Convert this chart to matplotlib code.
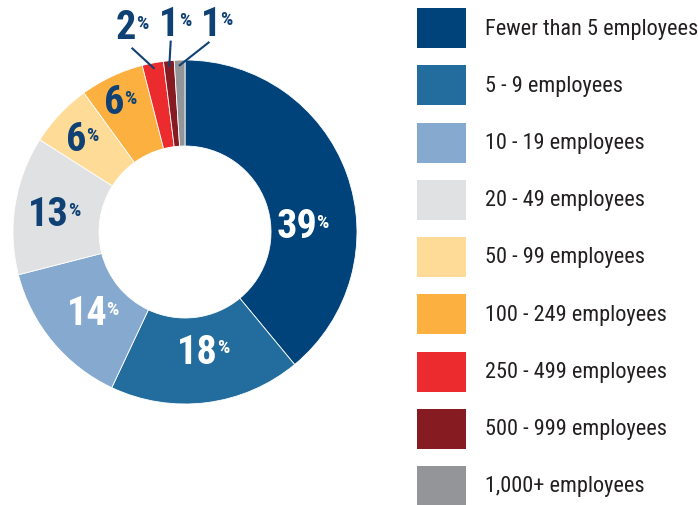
import numpy as np
import matplotlib
matplotlib.use("Agg")
import matplotlib.pyplot as plt
from matplotlib.patches import Rectangle
from matplotlib import font_manager

categories = ["Fewer than 5 employees", "5 - 9 employees", "10 - 19 employees",
              "20 - 49 employees", "50 - 99 employees", "100 - 249 employees",
              "250 - 499 employees", "500 - 999 employees", "1,000+ employees"]
values = [39, 18, 14, 13, 6, 6, 2, 1, 1]
colors = ["#00427A", "#236C9E", "#86A9CF", "#E0E1E3", "#FEDC97",
          "#FBB040", "#EC2B2F", "#861B22", "#939598"]
label_colors = ["white", "white", "white", "#0F4174", "#0F4174", "#0F4174",
                "#0F4174", "#0F4174", "#0F4174"]
# label placement style: (angle offset deg, radius, outside?)
label_style = [(-16.8, 0.65, False), (-1.2, 0.70, False), (0, 0.74, False),
               (1.5, 0.80, False), (2.7, 0.83, False), (3.4, 0.86, False),
               (5.2, 1.24, True), (-1.1, 1.21, True), (-8.9, 1.22, True)]

avail = {f.name for f in font_manager.fontManager.ttflist}
fam = next((f for f in ["Roboto Condensed", "Liberation Sans Narrow", "Roboto", "DejaVu Sans"] if f in avail))

W, H = 698, 506
fig = plt.figure(figsize=(W / 100, H / 100), dpi=100)
fig.patch.set_facecolor("white")

cx, cy, R = 185, 233, 172
ax = fig.add_axes([(cx - R) / W, (H - cy - R) / H, 2 * R / W, 2 * R / H])

wedges, _ = ax.pie(values, colors=colors, startangle=90, counterclock=False,
                   radius=1.0, wedgeprops=dict(width=0.5, edgecolor="white", linewidth=0.6))
ax.set_xlim(-1, 1)
ax.set_ylim(-1, 1)
ax.set_aspect("equal")
ax.axis("off")

for w, v, lc, (da, r, outside) in zip(wedges, values, label_colors, label_style):
    mid = np.deg2rad((w.theta1 + w.theta2) / 2 + da)
    x, y = r * np.cos(mid), r * np.sin(mid)
    t = ax.text(x, y, str(v), ha="center", va="center", fontsize=29, fontweight="bold",
                color=lc, family=fam, clip_on=False)
    ax.annotate("%", xy=(1, 1), xycoords=t, xytext=(-0.5, -4), textcoords="offset points",
                ha="left", va="top", fontsize=14, fontweight="bold", color=lc, family=fam,
                annotation_clip=False)
    if outside:
        wm = np.deg2rad((w.theta1 + w.theta2) / 2)
        ax.plot([1.11 * np.cos(mid), 0.97 * np.cos(wm)],
                [1.11 * np.sin(mid), 0.97 * np.sin(wm)], color="#0F4174", lw=1.5,
                clip_on=False)

lax = fig.add_axes([0, 0, 1, 1])
lax.set_xlim(0, W)
lax.set_ylim(H, 0)
lax.axis("off")
lax.patch.set_alpha(0)
top0, step = 9, 57.25
for i, (c, name) in enumerate(zip(colors, categories)):
    y0 = top0 + i * step
    lax.add_patch(Rectangle((417, y0), 49, 40, facecolor=c, edgecolor="none"))
    lax.text(485, y0 + 20, name, ha="left", va="center", fontsize=16,
             color="#231F20", family=fam)

fig.savefig("out.png", dpi=100)
